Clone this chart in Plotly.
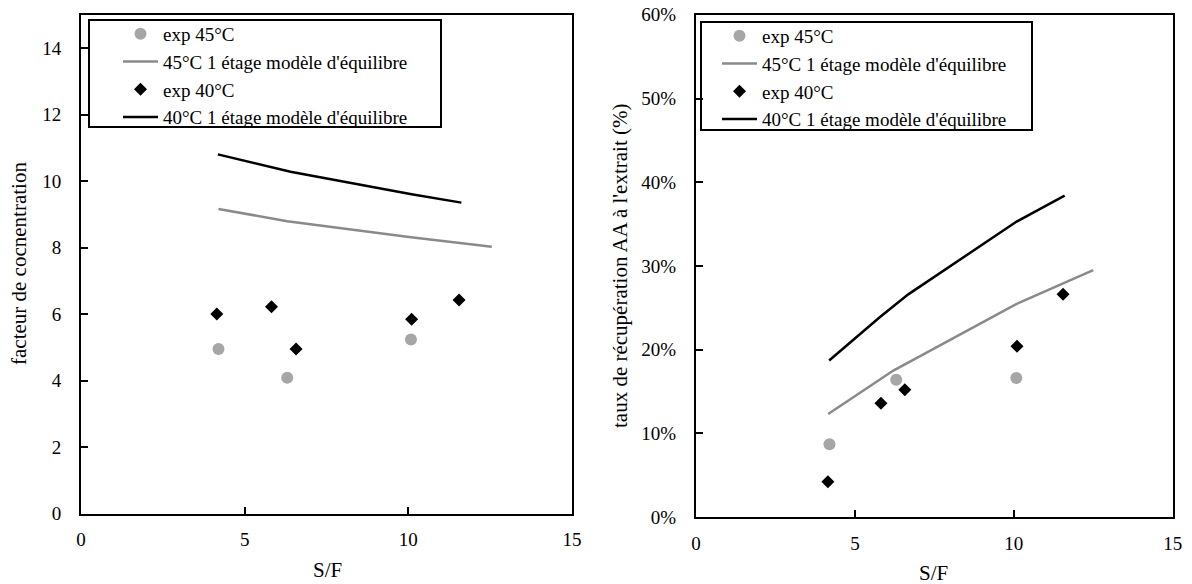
import plotly.graph_objects as go

# ---------------- data ----------------
# Left chart: concentration factor
sf_exp45 = [4.2, 6.3, 10.08]
fc_exp45 = [4.95, 4.08, 5.23]
sf_mod45 = [4.2, 6.3, 10.08, 12.55]
fc_mod45 = [9.16, 8.79, 8.31, 8.02]
sf_exp40 = [4.15, 5.82, 6.57, 10.1, 11.55]
fc_exp40 = [6.0, 6.22, 4.95, 5.84, 6.42]
sf_mod40 = [4.18, 5.82, 6.4, 10.1, 11.62]
fc_mod40 = [10.8, 10.42, 10.28, 9.6, 9.35]

# Right chart: AA recovery rate in extract (fraction)
rr_exp45 = [0.087, 0.164, 0.166]
rr_mod45_x = [4.16, 6.21, 10.09, 12.5]
rr_mod45 = [0.123, 0.175, 0.2545, 0.295]
rr_exp40 = [0.042, 0.136, 0.152, 0.204, 0.266]
rr_mod40_x = [4.19, 5.79, 6.68, 10.09, 11.6]
rr_mod40 = [0.187, 0.239, 0.266, 0.353, 0.384]

names = ["exp 45°C", "45°C 1 étage modèle d'équilibre",
         "exp 40°C", "40°C 1 étage modèle d'équilibre"]
x_ticks = [0, 5, 10, 15]
left_y_ticks = [0, 2, 4, 6, 8, 10, 12, 14]
right_y_ticks = [0, 0.1, 0.2, 0.3, 0.4, 0.5, 0.6]

# ---------------- style ----------------
W, H = 1192, 584
FONT = "Liberation Serif"
FS_TICK = 19
FS_LEG = 19
FS_TITLE = 21
LIGHT = "#A6A6A6"
GRAY = "#8A8A8A"
BLACK = "#000000"


def px(x):
    return x / W


def py(y):
    return 1 - y / H


fig = go.Figure()


def add_set(xa, ya, legend, e45x, e45y, m45x, m45y, e40x, e40y, m40x, m40y):
    fig.add_trace(go.Scatter(x=e45x, y=e45y, mode="markers", name=names[0],
                             marker=dict(symbol="circle", size=12, color=LIGHT),
                             xaxis=xa, yaxis=ya, legend=legend))
    fig.add_trace(go.Scatter(x=m45x, y=m45y, mode="lines", name=names[1],
                             line=dict(color=GRAY, width=2.5),
                             xaxis=xa, yaxis=ya, legend=legend))
    fig.add_trace(go.Scatter(x=e40x, y=e40y, mode="markers", name=names[2],
                             marker=dict(symbol="diamond", size=10, color=BLACK),
                             xaxis=xa, yaxis=ya, legend=legend))
    fig.add_trace(go.Scatter(x=m40x, y=m40y, mode="lines", name=names[3],
                             line=dict(color=BLACK, width=2.5),
                             xaxis=xa, yaxis=ya, legend=legend))


add_set("x", "y", "legend", sf_exp45, fc_exp45, sf_mod45, fc_mod45,
        sf_exp40, fc_exp40, sf_mod40, fc_mod40)
add_set("x2", "y2", "legend2", sf_exp45, rr_exp45, rr_mod45_x, rr_mod45,
        sf_exp40, rr_exp40, rr_mod40_x, rr_mod40)

axis_common = dict(showgrid=False, zeroline=False, showline=True, mirror=True,
                   linecolor="black", linewidth=2, ticks="inside", ticklen=7,
                   tickwidth=2, tickcolor="black", automargin=False,
                   tickfont=dict(family=FONT, size=FS_TICK, color="black"))

leg_common = dict(xanchor="left", yanchor="top", bgcolor="rgba(0,0,0,0)",
                  borderwidth=0, tracegroupgap=0, itemwidth=35,
                  font=dict(family=FONT, size=FS_LEG, color="black"))

title_font = dict(family=FONT, size=FS_TITLE, color="black")

fig.update_layout(
    width=W, height=H, margin=dict(l=0, r=0, t=0, b=0),
    paper_bgcolor="white", plot_bgcolor="white",
    font=dict(family=FONT, size=FS_TICK, color="black"),
    xaxis=dict(domain=[px(81), px(572)], range=[0, 15], tickvals=x_ticks,
               anchor="y", ticklabelstandoff=8, **axis_common),
    yaxis=dict(domain=[py(513.5), py(14.75)], range=[0, 15], tickvals=left_y_ticks,
               anchor="x", ticklabelstandoff=14, **axis_common),
    xaxis2=dict(domain=[px(696), px(1172.7)], range=[0, 15], tickvals=x_ticks,
                anchor="y2", ticklabelstandoff=8, **axis_common),
    yaxis2=dict(domain=[py(517), py(14.8)], range=[0, 0.6], tickvals=right_y_ticks,
                tickformat=".0%", anchor="x2", ticklabelstandoff=14, **axis_common),
    legend=dict(x=px(118), y=py(15), **leg_common),
    legend2=dict(x=px(717), y=py(17), **leg_common),
    shapes=[
        dict(type="rect", xref="paper", yref="paper", x0=px(89), x1=px(441),
             y0=py(127), y1=py(20), line=dict(color="black", width=2),
             fillcolor="rgba(0,0,0,0)", layer="below"),
        dict(type="rect", xref="paper", yref="paper", x0=px(701), x1=px(1032),
             y0=py(130), y1=py(22), line=dict(color="black", width=2),
             fillcolor="rgba(0,0,0,0)", layer="below"),
    ],
    annotations=[
        dict(text="S/F", x=px(327), y=py(570), xref="paper", yref="paper",
             showarrow=False, xanchor="center", yanchor="middle", font=title_font),
        dict(text="S/F", x=px(934), y=py(573), xref="paper", yref="paper",
             showarrow=False, xanchor="center", yanchor="middle", font=title_font),
        dict(text="facteur de cocnentration", x=px(19), y=py(264), xref="paper",
             yref="paper", showarrow=False, textangle=-90,
             xanchor="center", yanchor="middle", font=title_font),
        dict(text="taux de récupération AA à l'extrait (%)", x=px(620), y=py(266),
             xref="paper", yref="paper", showarrow=False, textangle=-90,
             xanchor="center", yanchor="middle", font=title_font),
    ],
)

fig.write_html("out.html", config={"displayModeBar": False},
               post_script="document.body.style.margin='0px';")
